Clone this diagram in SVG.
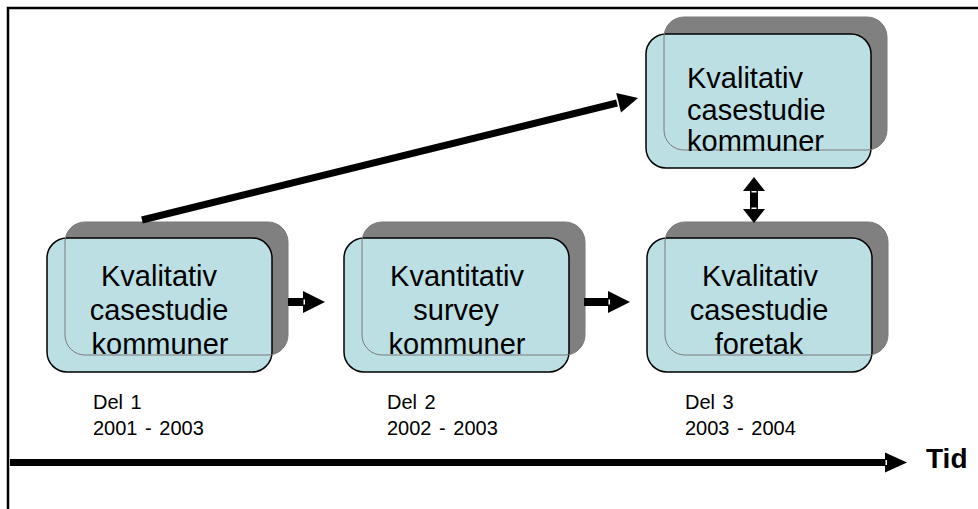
<svg xmlns="http://www.w3.org/2000/svg" width="978" height="509" viewBox="0 0 978 509">
<style>
.shadow{fill:#808080;}
.front{fill:#BBDFE3;stroke:#000;stroke-width:1.5;}
.ghost{fill:none;stroke:#7a7a7a;stroke-width:1;}
.nt{font-family:"Liberation Sans",Arial,sans-serif;font-size:29px;fill:#000;text-anchor:middle;}
.ntl{font-family:"Liberation Sans",Arial,sans-serif;font-size:29px;fill:#000;}
.lbl{font-family:"Liberation Sans",Arial,sans-serif;font-size:20px;fill:#000;word-spacing:2px;}
.tid{font-family:"Liberation Sans",Arial,sans-serif;font-size:28px;font-weight:bold;fill:#000;}
</style>
<rect x="0" y="0" width="978" height="509" fill="#fff"/>
<rect x="8" y="8" width="990" height="520" fill="#fff" stroke="#000" stroke-width="2.5"/>

<g id="node-top">
<rect class="shadow" x="664" y="17" width="223" height="133" rx="20"/>
<rect class="front" x="646" y="34" width="225" height="134" rx="20"/>
<rect class="ghost" x="664" y="17" width="223" height="133" rx="20"/>
<text class="ntl" x="687" y="88">Kvalitativ</text>
<text class="ntl" x="687" y="120">casestudie</text>
<text class="ntl" x="687" y="151">kommuner</text>
</g>

<g id="node-1">
<rect class="shadow" x="65" y="222" width="223" height="133" rx="20"/>
<rect class="front" x="47" y="238" width="225" height="134" rx="20"/>
<rect class="ghost" x="65" y="222" width="223" height="133" rx="20"/>
<text class="nt" x="159" y="286">Kvalitativ</text>
<text class="nt" x="159" y="320">casestudie</text>
<text class="nt" x="160" y="354">kommuner</text>
</g>

<g id="node-2">
<rect class="shadow" x="362" y="222" width="223" height="133" rx="20"/>
<rect class="front" x="344" y="238" width="225" height="134" rx="20"/>
<rect class="ghost" x="362" y="222" width="223" height="133" rx="20"/>
<text class="nt" x="457" y="286">Kvantitativ</text>
<text class="nt" x="456" y="320">survey</text>
<text class="nt" x="457" y="354">kommuner</text>
</g>

<g id="node-3">
<rect class="shadow" x="665" y="222" width="223" height="133" rx="20"/>
<rect class="front" x="647" y="238" width="225" height="134" rx="20"/>
<rect class="ghost" x="665" y="222" width="223" height="133" rx="20"/>
<text class="nt" x="760" y="286">Kvalitativ</text>
<text class="nt" x="759" y="320">casestudie</text>
<text class="nt" x="759" y="354">foretak</text>
</g>

<g id="labels">
<text class="lbl" x="93" y="409">Del 1</text>
<text class="lbl" x="93" y="435">2001 - 2003</text>
<text class="lbl" x="387" y="409">Del 2</text>
<text class="lbl" x="387" y="435">2002 - 2003</text>
<text class="lbl" x="685" y="409">Del 3</text>
<text class="lbl" x="685" y="435">2003 - 2004</text>
<text class="tid" x="926" y="468">Tid</text>
</g>

<g id="connectors">
<line x1="142" y1="220" x2="617" y2="103" stroke="#000" stroke-width="7"/>
<polygon points="638,98 621,112.5 616.2,93.1" fill="#000"/>
<rect x="288" y="298" width="16" height="8" fill="#000"/>
<polygon points="303,291 325,302 303,313" fill="#000"/>
<rect x="303.5" y="299.5" width="1.5" height="5" fill="#fff"/>
<rect x="584" y="298" width="25" height="8" fill="#000"/>
<polygon points="608,291 630,302 608,313" fill="#000"/>
<rect x="608.5" y="299.5" width="1.5" height="5" fill="#fff"/>
<rect x="750" y="190" width="8" height="20" fill="#000"/>
<polygon points="754,177 765,191 743,191" fill="#000"/>
<polygon points="754,223 765,209 743,209" fill="#000"/>
<rect x="751.5" y="191" width="5" height="1.5" fill="#fff"/>
<rect x="751.5" y="207.5" width="5" height="1.5" fill="#fff"/>
<rect x="10" y="459" width="876" height="7" fill="#000"/>
<polygon points="885,452.5 907,462.5 885,472.5" fill="#000"/>
<rect x="885.5" y="460" width="1.5" height="5" fill="#fff"/>
</g>
</svg>
